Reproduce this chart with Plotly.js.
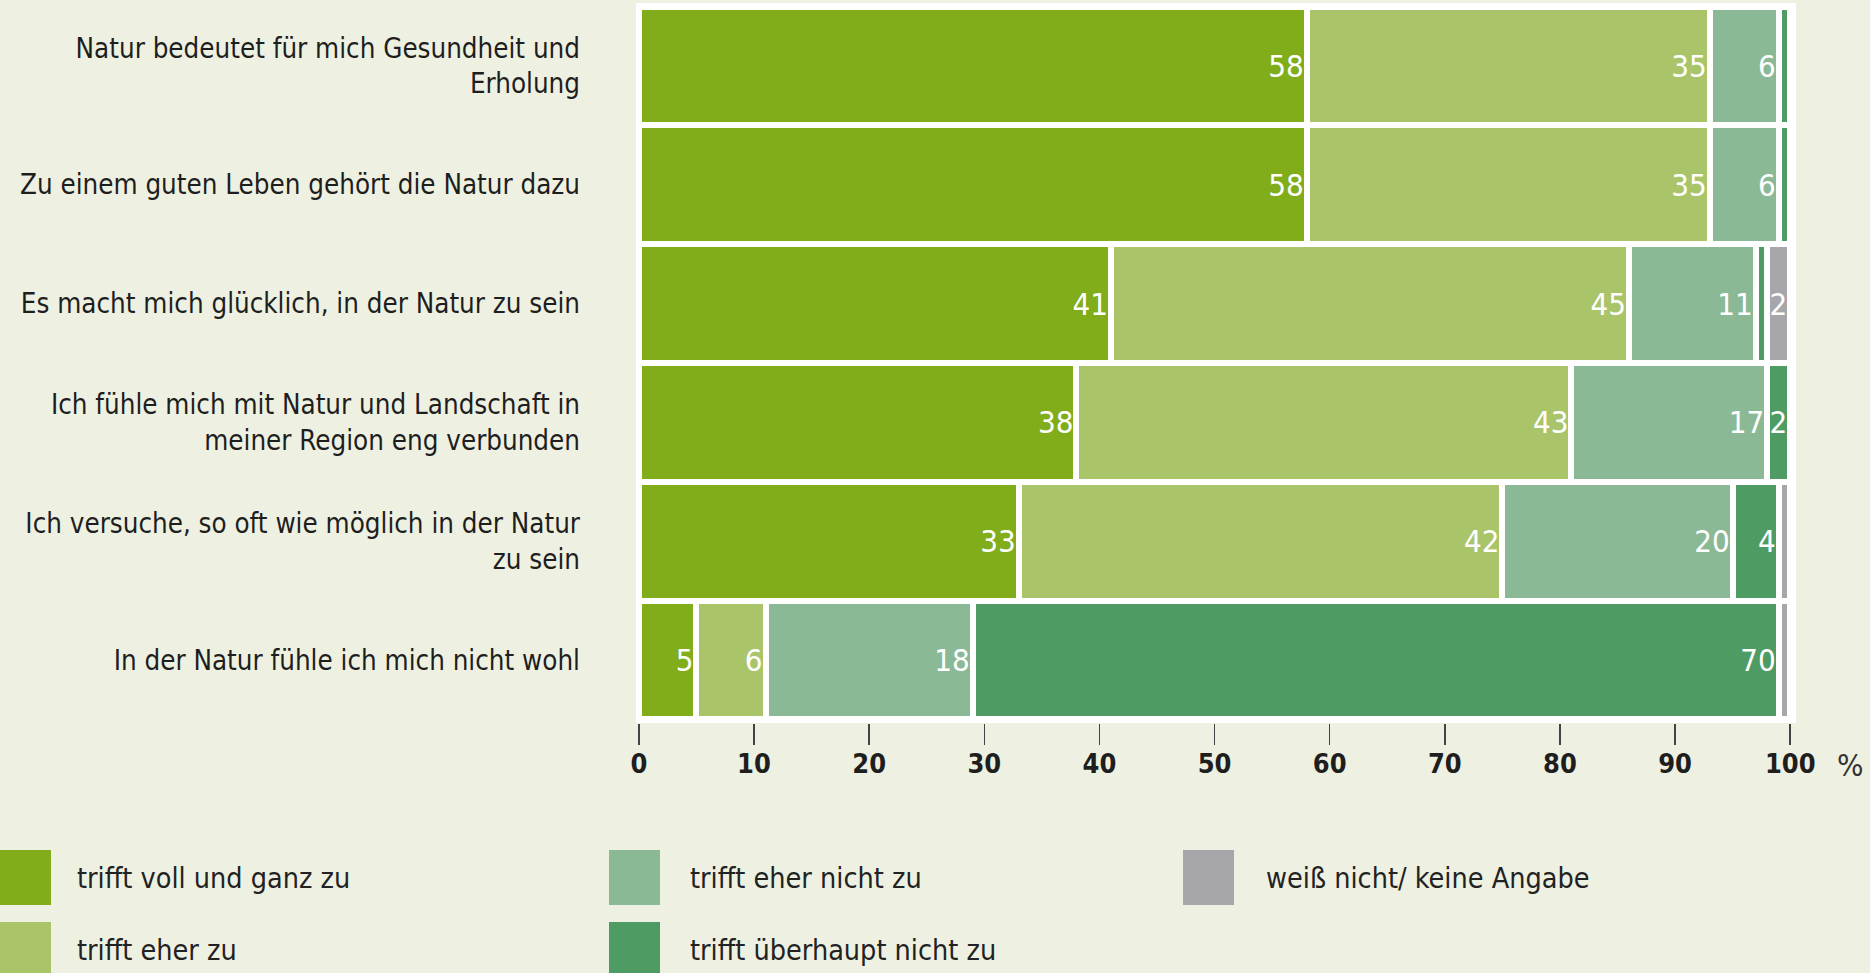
<!DOCTYPE html>
<html>
<head>
<meta charset="utf-8">
<script src="https://cdn.plot.ly/plotly-3.0.1.min.js"></script>
<style>
  html, body { margin: 0; padding: 0; background: #eef1e2; }
  #chart { width: 1870px; height: 973px; }
</style>
</head>
<body>
<div id="chart"></div>
<script>
// ---- data ----
const categories = [
  "Natur bedeutet für mich Gesundheit und<br>Erholung",
  "Zu einem guten Leben gehört die Natur dazu",
  "Es macht mich glücklich, in der Natur zu sein",
  "Ich fühle mich mit Natur und Landschaft in<br>meiner Region eng verbunden",
  "Ich versuche, so oft wie möglich in der Natur<br>zu sein",
  "In der Natur fühle ich mich nicht wohl"
];
const seriesNames = [
  "trifft voll und ganz zu",
  "trifft eher zu",
  "trifft eher nicht zu",
  "trifft überhaupt nicht zu",
  "weiß nicht/ keine Angabe"
];
const trifftVoll       = [58, 58, 41, 38, 33, 5];
const trifftEher       = [35, 35, 45, 43, 42, 6];
const trifftEherNicht  = [6, 6, 11, 17, 20, 18];
const trifftUeberhaupt = [1, 1, 1, 2, 4, 70];
const weissNicht       = [0, 0, 2, 0, 1, 1];
const seriesColors = ["#80ad19", "#aac46a", "#8cb995", "#4e9b64", "#a7a6ab"];
const xTickValues = [0, 10, 20, 30, 40, 50, 60, 70, 80, 90, 100];

const seriesValues = [trifftVoll, trifftEher, trifftEherNicht, trifftUeberhaupt, weissNicht];

// ---- layout constants ----
const W = 1870, H = 973;
const M = { l: 636, r: 74, t: 3, b: 250 };
const plotW = W - M.l - M.r, plotH = H - M.t - M.b;
const px2x = px => (px - M.l) / plotW;
const py2y = py => (H - M.b - py) / plotH;
const FONT = "'DejaVu Sans Condensed', 'Liberation Sans Narrow', 'DejaVu Sans', sans-serif";

const traces = seriesValues.map((vals, i) => ({
  type: "bar",
  orientation: "h",
  name: seriesNames[i],
  y: categories,
  x: vals,
  text: vals.map(v => (v >= 2 ? String(v) : "")),
  textposition: "inside",
  insidetextanchor: "end",
  textangle: 0,
  constraintext: "none",
  textfont: { family: FONT, size: 31, color: "#ffffff" },
  marker: { color: seriesColors[i], line: { color: "#ffffff", width: 6 } },
  hoverinfo: "x+name",
  showlegend: false
}));

// custom legend (large swatches), column-wise like the original
const legendSlots = [[0, 0], [0, 1], [1, 0], [1, 1], [2, 0]];
const colSwatchX = [0, 609, 1183];
const colTextX = [75, 688, 1264];
const rowTop = [850, 922];
const swW = 51, swH = 55;

const shapes = [];
const annotations = [];
seriesNames.forEach((name, i) => {
  const [c, r] = legendSlots[i];
  shapes.push({
    type: "rect", xref: "paper", yref: "paper", layer: "above",
    x0: px2x(colSwatchX[c]), x1: px2x(colSwatchX[c] + swW),
    y0: py2y(rowTop[r] + swH), y1: py2y(rowTop[r]),
    fillcolor: seriesColors[i], line: { width: 0 }
  });
  annotations.push({
    xref: "paper", yref: "paper",
    x: px2x(colTextX[c]), y: py2y(rowTop[r] + swH / 2 + 1),
    xanchor: "left", yanchor: "middle", showarrow: false,
    text: name, font: { family: FONT, size: 28.5, color: "#222222" }
  });
});
annotations.push({
  xref: "paper", yref: "paper",
  x: px2x(1851), y: py2y(765),
  xanchor: "center", yanchor: "middle", showarrow: false,
  text: "%", font: { family: FONT, size: 31, color: "#333333" }
});

const layout = {
  width: W, height: H, autosize: false,
  margin: { l: M.l, r: M.r, t: M.t, b: M.b, pad: 0 },
  paper_bgcolor: "#eef1e2",
  plot_bgcolor: "#ffffff",
  barmode: "stack",
  bargap: 0,
  xaxis: {
    range: [-0.25, 100.5],
    tickvals: xTickValues,
    ticktext: xTickValues.map(String),
    ticks: "outside", ticklen: 21, tickwidth: 1.5, tickcolor: "#444444",
    ticklabelstandoff: -4,
    tickfont: { family: FONT, size: 27, color: "#1e1e1e", weight: "bold" },
    showgrid: false, zeroline: false, showline: false,
    fixedrange: true
  },
  yaxis: {
    type: "category",
    range: [5.53, -0.53],
    autorange: false,
    ticks: "",
    ticklabelstandoff: 55,
    tickfont: { family: FONT, size: 27.5, color: "#1e1e1e" },
    showgrid: false, zeroline: false, showline: false,
    fixedrange: true
  },
  shapes: shapes,
  annotations: annotations,
  showlegend: false
};

Plotly.newPlot("chart", traces, layout, { displayModeBar: false, staticPlot: true });
</script>
</body>
</html>
